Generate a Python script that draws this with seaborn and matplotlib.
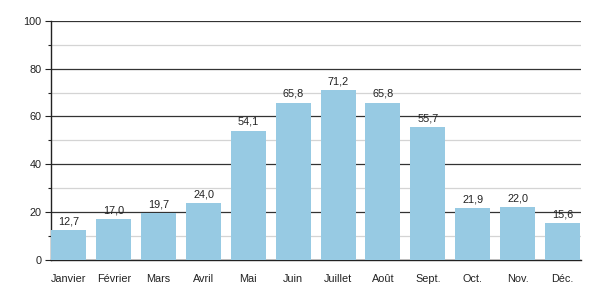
import matplotlib
matplotlib.use("Agg")
import matplotlib.pyplot as plt
import seaborn as sns
import pandas as pd
from matplotlib.ticker import MultipleLocator

months = ["Janvier", "Février", "Mars", "Avril", "Mai", "Juin", "Juillet", "Août", "Sept.", "Oct.", "Nov.", "Déc."]
values = [12.7, 17.0, 19.7, 24.0, 54.1, 65.8, 71.2, 65.8, 55.7, 21.9, 22.0, 15.6]

sns.set_theme(style="white")
plt.rcParams['font.family'] = ['Liberation Sans', 'DejaVu Sans']

df = pd.DataFrame({"month": months, "value": values})

fig = plt.figure(figsize=(6, 3), dpi=100)
ax = fig.add_axes([0.085, 0.133, 0.883, 0.798])

ax.yaxis.set_major_locator(MultipleLocator(20))
ax.yaxis.set_minor_locator(MultipleLocator(10))
ax.grid(which="major", axis="y", color="#333333", linewidth=0.9)
ax.grid(which="minor", axis="y", color="#d4d4d4", linewidth=0.9)
ax.set_axisbelow(True)

sns.barplot(data=df, x="month", y="value", color="#97cae3", width=0.78,
            saturation=1, ax=ax, zorder=3, linewidth=0, edgecolor="none")

for i, v in enumerate(values):
    ax.text(i, v + 1.5, f"{v:.1f}".replace(".", ","), ha="center", va="bottom",
            fontsize=7.8, color="#222222", zorder=4)

ax.set_ylim(0, 100)
ax.set_xlim(-0.4, 11.41)
ax.set_xlabel("")
ax.set_ylabel("")
for s in ["top", "right"]:
    ax.spines[s].set_visible(False)
ax.spines["left"].set_color("#222222")
ax.spines["bottom"].set_color("#222222")
ax.spines["left"].set_linewidth(1.0)
ax.spines["bottom"].set_linewidth(1.0)
ax.tick_params(axis="y", which="major", left=True, length=4, width=0.8, color="#222222",
               labelsize=7.8, labelcolor="#222222", pad=3)
ax.tick_params(axis="y", which="minor", left=True, length=2.5, width=0.8, color="#222222")
ax.tick_params(axis="x", bottom=False, labelsize=7.8, labelcolor="#222222", pad=4)

fig.savefig("out.png", dpi=100)
